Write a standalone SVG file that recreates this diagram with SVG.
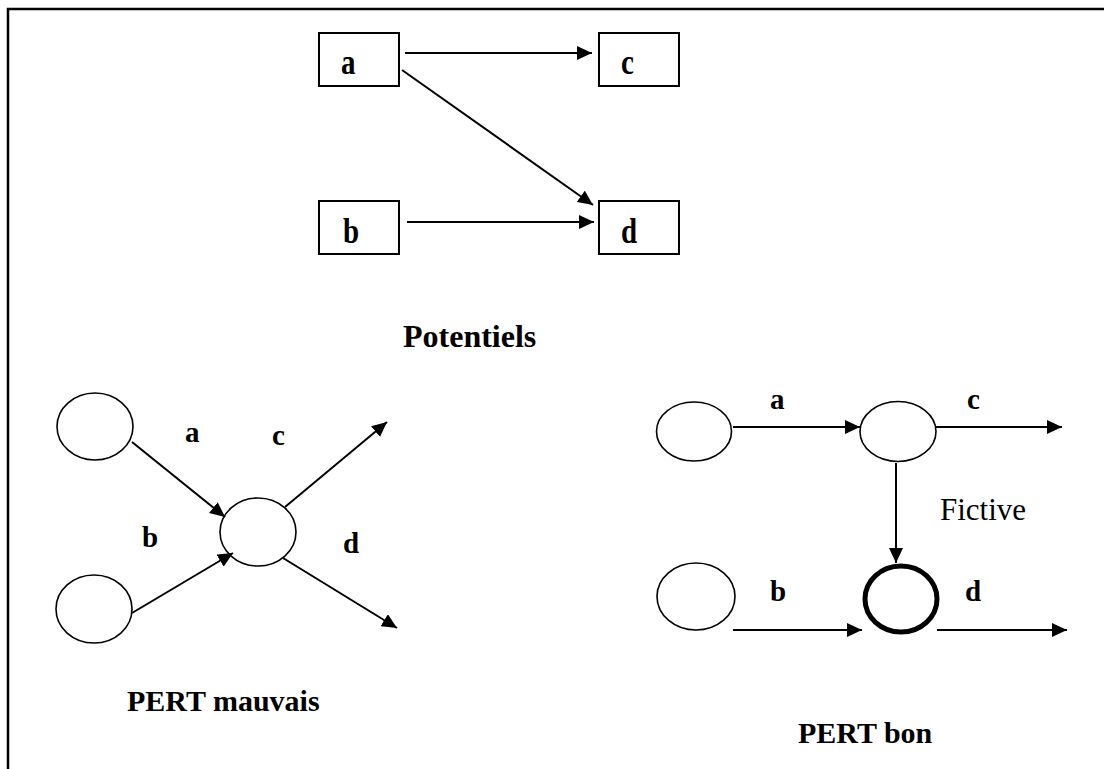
<svg xmlns="http://www.w3.org/2000/svg" width="1104" height="769" viewBox="0 0 1104 769">
  <style>
    .box { fill: #fff; stroke: #000; stroke-width: 2; }
    .node { fill: #fff; stroke: #000; stroke-width: 1.6; }
    .node-bold { fill: #fff; stroke: #000; stroke-width: 5; }
    .edge { stroke: #000; stroke-width: 2; fill: none; marker-end: url(#arrow); }
    text { font-family: 'Liberation Serif', 'Times New Roman', serif; fill: #000; }
    .lbl { font-size: 29px; font-weight: bold; }
    .cap { font-size: 30px; font-weight: bold; }
    .lbl-plain { font-size: 31px; font-weight: normal; }
  </style>
  <defs>
    <marker id="arrow" markerUnits="userSpaceOnUse" markerWidth="16" markerHeight="14" refX="15" refY="7" orient="auto">
      <path d="M0,0 L15,7 L0,14 Z" fill="#000"/>
    </marker>
  </defs>

  <rect width="1104" height="769" fill="#fff"/>
  <!-- page frame: only top and left edges fall inside the view -->
  <rect x="8" y="9" width="1200" height="900" fill="none" stroke="#000" stroke-width="2.5"/>

  <!-- potentials graph (task boxes, letters slightly tall) -->
  <g id="pot-a"><rect class="box" x="319" y="33" width="80" height="53"/><text class="lbl" transform="translate(341,74) scale(1,1.2)">a</text></g>
  <g id="pot-c"><rect class="box" x="599" y="33" width="80" height="53"/><text class="lbl" transform="translate(621,74) scale(1,1.2)">c</text></g>
  <g id="pot-b"><rect class="box" x="319" y="201" width="80" height="53"/><text class="lbl" transform="translate(343,243) scale(1,1.2)">b</text></g>
  <g id="pot-d"><rect class="box" x="599" y="201" width="80" height="53"/><text class="lbl" transform="translate(621,243) scale(1,1.2)">d</text></g>
  <text id="title-pot" class="cap" x="403" y="347" style="font-size:32px">Potentiels</text>

  <!-- wrong PERT graph -->
  <g id="bad-start-a"><ellipse class="node" cx="95" cy="426.5" rx="38" ry="33.5"/></g>
  <g id="bad-start-b"><ellipse class="node" cx="94" cy="609" rx="38" ry="34"/></g>
  <g id="bad-join"><ellipse class="node" cx="258" cy="532" rx="38" ry="34"/></g>
  <text class="lbl" x="185" y="442">a</text>
  <text class="lbl" x="272" y="445">c</text>
  <text class="lbl" x="142" y="547">b</text>
  <text class="lbl" x="343" y="553">d</text>
  <text id="title-bad" class="cap" x="127" y="711">PERT mauvais</text>

  <!-- correct PERT graph -->
  <g id="good-start-a"><ellipse class="node" cx="694" cy="431.5" rx="37.5" ry="29.5"/></g>
  <g id="good-mid"><ellipse class="node" cx="898" cy="431.5" rx="38" ry="30"/></g>
  <g id="good-start-b"><ellipse class="node" cx="696" cy="596.5" rx="39" ry="33.5"/></g>
  <g id="good-join"><ellipse class="node-bold" cx="901" cy="599" rx="36" ry="33"/></g>
  <text class="lbl" x="770" y="409">a</text>
  <text class="lbl" x="967" y="409">c</text>
  <text class="lbl-plain" x="940" y="520">Fictive</text>
  <text class="lbl" x="770" y="601">b</text>
  <text class="lbl" x="965" y="601">d</text>
  <text id="title-good" class="cap" x="798" y="743">PERT bon</text>

  <!-- connectors -->
  <g id="connectors">
    <line class="edge" x1="405" y1="53" x2="592" y2="53"/>
    <line class="edge" x1="402" y1="70" x2="593" y2="205"/>
    <line class="edge" x1="407" y1="222" x2="594" y2="222"/>

    <line class="edge" x1="132" y1="442" x2="225" y2="517"/>
    <line class="edge" x1="132" y1="613" x2="233" y2="553"/>
    <line class="edge" x1="285" y1="507" x2="387" y2="422"/>
    <line class="edge" x1="283" y1="558" x2="397" y2="628"/>

    <line class="edge" x1="733" y1="427" x2="860" y2="427"/>
    <line class="edge" x1="935" y1="427" x2="1062" y2="427"/>
    <line class="edge" x1="896" y1="463" x2="896" y2="563"/>
    <line class="edge" x1="733" y1="630" x2="862" y2="630"/>
    <line class="edge" x1="937" y1="630" x2="1067" y2="630"/>
  </g>
</svg>
